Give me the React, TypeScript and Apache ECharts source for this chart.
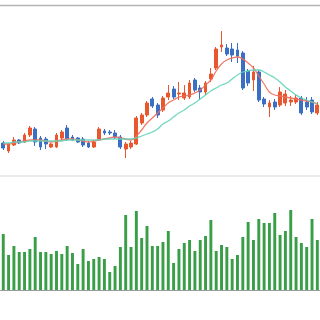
import React, { useEffect, useRef } from "react";
import * as echarts from "echarts";

// Trading sessions shown in the window
const days: string[] = Array.from({ length: 60 }, (_, i) => `D${i + 1}`);

// [open, close, low, high]
const candles: number[][] = [
  [2330, 2280, 2260, 2350], [2250, 2320, 2230, 2330], [2310, 2360, 2300, 2390], [2360, 2330, 2320, 2370],
  [2340, 2410, 2330, 2430], [2410, 2480, 2390, 2500], [2470, 2340, 2300, 2490], [2380, 2290, 2260, 2400],
  [2370, 2320, 2270, 2390], [2290, 2320, 2280, 2330], [2290, 2410, 2280, 2430], [2380, 2440, 2360, 2460],
  [2480, 2370, 2350, 2510], [2390, 2360, 2350, 2410], [2380, 2340, 2330, 2390], [2370, 2310, 2290, 2390],
  [2330, 2290, 2280, 2350], [2290, 2340, 2280, 2360], [2370, 2470, 2350, 2490], [2450, 2430, 2410, 2470],
  [2440, 2430, 2410, 2460], [2430, 2390, 2370, 2460], [2390, 2290, 2270, 2410], [2270, 2320, 2180, 2340],
  [2290, 2330, 2270, 2350], [2320, 2580, 2310, 2600], [2530, 2610, 2510, 2630], [2610, 2730, 2590, 2750],
  [2770, 2700, 2680, 2790], [2710, 2610, 2580, 2730], [2660, 2780, 2640, 2800], [2790, 2830, 2760, 2910],
  [2870, 2790, 2770, 2900], [2820, 2830, 2760, 2940], [2780, 2830, 2760, 2910], [2790, 2930, 2770, 2960],
  [2960, 2860, 2840, 2980], [2880, 2840, 2760, 2910], [2840, 2930, 2810, 2950], [2970, 3020, 2940, 3080],
  [3080, 3270, 3060, 3290], [3290, 3310, 3240, 3450], [3280, 3220, 3200, 3320], [3270, 3210, 3140, 3330],
  [3260, 3200, 3130, 3330], [3230, 2880, 2860, 3250], [3050, 2930, 2900, 3070], [2960, 3040, 2850, 3100],
  [3040, 2760, 2740, 3060], [2770, 2720, 2690, 2790], [2690, 2730, 2590, 2760], [2740, 2690, 2660, 2770],
  [2710, 2840, 2690, 2890], [2730, 2820, 2700, 2860], [2740, 2760, 2700, 2800], [2740, 2780, 2720, 2810],
  [2780, 2630, 2610, 2800], [2740, 2690, 2660, 2790], [2760, 2640, 2620, 2790], [2630, 2710, 2610, 2740],
];

// Short moving average
const maShort: number[] = [
  2320, 2320, 2330, 2340, 2350, 2360, 2360, 2360, 2350, 2340,
  2350, 2360, 2370, 2370, 2360, 2350, 2340, 2350, 2360, 2370,
  2380, 2390, 2380, 2370, 2360, 2400, 2460, 2530, 2580, 2630,
  2680, 2730, 2760, 2790, 2800, 2810, 2830, 2860, 2910, 2960,
  3050, 3120, 3160, 3180, 3190, 3170, 3130, 3080, 3000, 2920,
  2840, 2810, 2800, 2790, 2780, 2770, 2760, 2750, 2740, 2720,
];

// Long moving average
const maLong: number[] = [
  2330, 2330, 2340, 2340, 2340, 2350, 2350, 2350, 2350, 2350,
  2350, 2350, 2360, 2360, 2360, 2360, 2360, 2360, 2360, 2370,
  2370, 2370, 2370, 2370, 2370, 2380, 2400, 2420, 2440, 2470,
  2520, 2550, 2590, 2630, 2660, 2700, 2730, 2770, 2810, 2850,
  2880, 2910, 2930, 2970, 3010, 3040, 3050, 3060, 3060, 3040,
  3010, 2980, 2940, 2890, 2850, 2810, 2780, 2760, 2740, 2720,
];

// Volume, millions of shares
const volume: number[] = [
  56, 35, 44, 38, 38, 41, 53, 38, 38, 36,
  39, 36, 44, 37, 26, 41, 29, 31, 33, 31,
  18, 24, 43, 75, 43, 79, 52, 64, 44, 44,
  48, 59, 27, 41, 47, 50, 39, 50, 54, 70,
  39, 45, 43, 31, 35, 53, 68, 50, 71, 67,
  67, 77, 55, 59, 80, 53, 47, 43, 71, 50,
];

export default function App() {
  const ref = useRef<HTMLDivElement>(null);

  useEffect(() => {
    if (!ref.current) return;
    const chart = echarts.init(ref.current, null, { renderer: "svg" });
    chart.setOption({
      animation: false,
      backgroundColor: "#ffffff",
      grid: [
        { left: 0.6, right: -0.6, top: 6, height: 170 },
        { left: 0.6, right: -0.6, top: 200, height: 90 },
      ],
      xAxis: [
        {
          type: "category",
          gridIndex: 0,
          data: days,
          boundaryGap: true,
          axisLine: { show: true, lineStyle: { color: "#e4e4e4", width: 1.5 } },
          axisTick: { show: false },
          axisLabel: { show: false },
          splitLine: { show: false },
        },
        {
          type: "category",
          gridIndex: 1,
          data: days,
          boundaryGap: true,
          axisLine: { show: true, lineStyle: { color: "#9a9a9a", width: 1 } },
          axisTick: { show: false },
          axisLabel: { show: false },
          splitLine: { show: false },
        },
      ],
      yAxis: [
        {
          type: "value",
          gridIndex: 0,
          min: 2000,
          max: 3700,
          axisLine: { show: false },
          axisTick: { show: false },
          axisLabel: { show: false },
          splitLine: { show: false },
        },
        {
          type: "value",
          gridIndex: 1,
          min: 0,
          max: 90,
          axisLine: { show: false },
          axisTick: { show: false },
          axisLabel: { show: false },
          splitLine: { show: false },
        },
      ],
      graphic: [
        {
          type: "line",
          shape: { x1: 0, y1: 5.5, x2: 320, y2: 5.5 },
          style: { stroke: "#b4b4b4", lineWidth: 1.5 },
          silent: true,
        },
      ],
      series: [
        {
          type: "candlestick",
          xAxisIndex: 0,
          yAxisIndex: 0,
          data: candles,
          barWidth: "62%",
          itemStyle: {
            color: "#e8572e",
            color0: "#3b6fc5",
            borderColor: "#e8572e",
            borderColor0: "#3b6fc5",
            borderWidth: 1,
          },
        },
        {
          type: "line",
          xAxisIndex: 0,
          yAxisIndex: 0,
          data: maShort,
          smooth: true,
          symbol: "none",
          lineStyle: { color: "#ee6f5c", width: 1.3, opacity: 0.9 },
        },
        {
          type: "line",
          xAxisIndex: 0,
          yAxisIndex: 0,
          data: maLong,
          smooth: true,
          symbol: "none",
          lineStyle: { color: "#62d4b8", width: 1.3, opacity: 0.9 },
        },
        {
          type: "bar",
          xAxisIndex: 1,
          yAxisIndex: 1,
          data: volume,
          barWidth: "55%",
          itemStyle: { color: "#3a9e48" },
        },
      ],
    });
    return () => chart.dispose();
  }, []);

  return (
    <div
      ref={ref}
      style={{ position: "absolute", left: 0, top: 0, width: 320, height: 320 }}
    />
  );
}
